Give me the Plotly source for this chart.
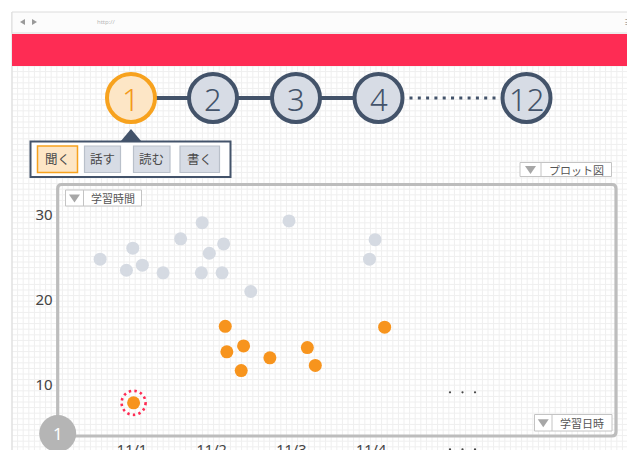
import plotly.graph_objects as go

# ---------------- data ----------------
steps = ["1", "2", "3", "4", "12"]
tabs = ["聞く", "話す", "読む", "書く"]
x_tick_vals = [1, 2, 3, 4]
x_tick_text = ["11/1", "11/2", "11/3", "11/4"]
y_tick_vals = [10, 20, 30]

# other learners (gray)
gray_x = [0.60, 0.93, 1.01, 1.13, 1.39, 1.61, 1.87, 1.88, 1.97, 2.13, 2.15, 2.49, 2.97, 3.98, 4.05]
gray_y = [24.8, 23.5, 26.1, 24.1, 23.2, 27.2, 23.2, 29.1, 25.5, 23.2, 26.6, 21.0, 29.3, 24.8, 27.1]
# current learner (orange)
orange_x = [1.02, 2.17, 2.19, 2.37, 2.40, 2.73, 3.20, 3.30, 4.17]
orange_y = [7.9, 16.9, 13.9, 11.7, 14.6, 13.2, 14.4, 12.3, 16.8]
highlight_index = 0

# the page body has an 8px margin: work in window pixels and convert
OFF = 8
W, H = 635 - OFF, 450 - OFF
FONT = "Noto Sans, Noto Sans CJK JP, sans-serif"
DARK = "#43536a"
ORANGE = "#f7941d"
RED = "#fe2c54"


def X(px):
    return (px - OFF) / W


def Y(py):
    return 1 - (py - OFF) / H


shapes = []
annotations = []


def rect(x0, y0, x1, y1, fill, line="rgba(0,0,0,0)", lw=1):
    shapes.append(dict(type="rect", xref="paper", yref="paper", layer="below",
                       x0=X(x0), x1=X(x1), y0=Y(y1), y1=Y(y0),
                       fillcolor=fill, line=dict(color=line, width=lw)))


def line(x0, y0, x1, y1, color, lw=1, dash="solid"):
    shapes.append(dict(type="line", xref="paper", yref="paper", layer="below",
                       x0=X(x0), x1=X(x1), y0=Y(y0), y1=Y(y1),
                       line=dict(color=color, width=lw, dash=dash)))


def circle(cx, cy, r, fill, line_c="rgba(0,0,0,0)", lw=0):
    shapes.append(dict(type="circle", xref="paper", yref="paper", layer="below",
                       x0=X(cx - r), x1=X(cx + r), y0=Y(cy + r), y1=Y(cy - r),
                       fillcolor=fill, line=dict(color=line_c, width=lw)))


def poly(pts, fill):
    p = "M " + " L ".join(f"{X(a):.5f},{Y(b):.5f}" for a, b in pts) + " Z"
    shapes.append(dict(type="path", xref="paper", yref="paper", layer="below",
                       path=p, fillcolor=fill, line=dict(width=0)))


def text(px, py, s, size, color, xanchor="center", yanchor="middle", weight="normal"):
    annotations.append(dict(xref="paper", yref="paper", x=X(px), y=Y(py), text=s,
                            showarrow=False, xanchor=xanchor, yanchor=yanchor,
                            font=dict(size=size, color=color, family=FONT, weight=weight)))


# ---------------- background grid ----------------
segs = []
gx0, gy0 = 12, 66
step = 5.6
v = gx0
while v <= 635:
    segs.append(f"M {X(v):.5f},{Y(gy0):.5f} L {X(v):.5f},{Y(450):.5f}")
    v += step
v = gy0
while v <= 450:
    segs.append(f"M {X(gx0):.5f},{Y(v):.5f} L {X(635):.5f},{Y(v):.5f}")
    v += step
shapes.append(dict(type="path", xref="paper", yref="paper", layer="below",
                   path=" ".join(segs), line=dict(color="#efefef", width=1)))

# ---------------- browser chrome ----------------
line(12, 12, 12, 450, "#d9d9d9", 1)
rect(12, 12, 640, 33, "#fcfcfc", "#dcdcdc", 1)
rect(12, 34, 640, 66, RED)
poly([(20, 22), (25, 19), (25, 25)], "#9a9a9a")
poly([(37, 22), (32, 19), (32, 25)], "#9a9a9a")
text(95, 22.5, "http://", 6, "#b8b8b8", xanchor="left")
text(636, 22, "≡", 10, "#9a9a9a", xanchor="right")

# ---------------- step indicator ----------------
centers = [131, 213, 296, 378.5, 526.5]
cy = 98
r = 24
for i in range(3):
    line(centers[i] + r, cy, centers[i + 1] - r, cy, DARK, 4)
line(centers[3] + r + 7, cy, centers[4] - r - 3, cy, DARK, 3.2, dash="3px,5.3px")
for i, (c, s) in enumerate(zip(centers, steps)):
    if i == 0:
        circle(c, cy, r, "#fde6c6", "#f7a21e", 4)
        text(c, cy + 1, s, 31, "#f39a1c", weight=300)
    else:
        circle(c, cy, r, "#d7dce5", DARK, 4)
        text(c, cy + 1, s, 31, DARK, weight=300)

# pointer + tab box
poly([(131, 129), (120.5, 141.5), (141.5, 141.5)], DARK)
rect(30.5, 141.5, 230.5, 177, "#ffffff", DARK, 2)
tab_boxes = [(37.5, 77.5), (84.5, 120.5), (133.5, 170), (180, 219.5)]
for i, ((a, b), t) in enumerate(zip(tab_boxes, tabs)):
    if i == 0:
        rect(a, 146, b, 172.5, "#fde6c6", "#f7a21e", 1.5)
    else:
        rect(a, 146, b, 172.5, "#d7dce5", "#b9c0ca", 1.2)
    text((a + b) / 2, 159.5, t, 12.5, "#4a4a4a")


# dropdown helper
def dropdown(x0, y0, x1, y1, split, label, size=11):
    rect(x0, y0, x1, y1, "#ffffff", "#c4c4c4", 1)
    line(split, y0, split, y1, "#c4c4c4", 1)
    m = (x0 + split) / 2
    mid = (y0 + y1) / 2
    poly([(m - 5.5, mid - 3.5), (m + 5.5, mid - 3.5), (m, mid + 4.5)], "#a7a7a7")
    text((split + x1) / 2, mid + 0.5, label, size, "#555555")


dropdown(520, 162.5, 611.5, 176.5, 541, "プロット図")

# ---------------- chart frame ----------------
fx0, fy0, fx1, fy1, rr = 57.7, 184.5, 616, 436, 4
frame = (f"M {X(fx0):.5f},{Y(fy1):.5f} L {X(fx0):.5f},{Y(fy0 + rr):.5f} "
         f"Q {X(fx0):.5f},{Y(fy0):.5f} {X(fx0 + rr):.5f},{Y(fy0):.5f} "
         f"L {X(fx1 - rr):.5f},{Y(fy0):.5f} "
         f"Q {X(fx1):.5f},{Y(fy0):.5f} {X(fx1):.5f},{Y(fy0 + rr):.5f} "
         f"L {X(fx1):.5f},{Y(fy1 - rr):.5f} "
         f"Q {X(fx1):.5f},{Y(fy1):.5f} {X(fx1 - rr):.5f},{Y(fy1):.5f} "
         f"L {X(fx0):.5f},{Y(fy1):.5f}")
shapes.append(dict(type="path", xref="paper", yref="paper", layer="below",
                   path=frame, line=dict(color="#bdbdbd", width=3.2)))

dropdown(65.5, 190, 141.5, 206, 83.5, "学習時間")
dropdown(534.5, 414.5, 612, 431, 552, "学習日時")

# continuation marks
for xx in (450, 462.5, 475):
    circle(xx, 392.3, 1.1, "#444444")
    circle(xx, 449.3, 1.1, "#444444")

# gray badge "1"
circle(57.7, 433.5, 18.5, "#b5b5b5")
text(57.7, 433.5, "1", 17, "#ffffff")

# highlight ring around the selected point (pixel-sized, anchored to data)
shapes.append(dict(type="circle", xref="x", yref="y", layer="above",
                   xsizemode="pixel", ysizemode="pixel",
                   xanchor=orange_x[highlight_index], yanchor=orange_y[highlight_index],
                   x0=-12, x1=12, y0=-12, y1=12,
                   line=dict(color=RED, width=2.6, dash="2.4px,3.3px")))

# ---------------- data traces ----------------
fig = go.Figure()
fig.add_trace(go.Scatter(x=gray_x, y=gray_y, mode="markers", name="others",
                         marker=dict(size=13, color="#d5dae2", line=dict(width=0)),
                         hoverinfo="skip"))
fig.add_trace(go.Scatter(x=orange_x, y=orange_y, mode="markers", name="me",
                         marker=dict(size=13, color=ORANGE, line=dict(width=0)),
                         hoverinfo="skip"))

# axes: pixel mapping x: 1 day = 79.7px with 11/1 at px 132 ; y: 10h = 85px with 30 at py 215
px_day = 79.7
xr = [1 + (fx0 - 132) / px_day, 1 + (fx1 - 132) / px_day]
py_unit = 8.5
yr = [30 - (fy1 - 215) / py_unit, 30 + (215 - fy0) / py_unit]

fig.update_layout(
    width=W, height=H,
    margin=dict(l=0, r=0, t=0, b=0),
    paper_bgcolor="#ffffff",
    plot_bgcolor="rgba(0,0,0,0)",
    showlegend=False,
    template="none",
    shapes=shapes,
    annotations=annotations,
    xaxis=dict(domain=[X(fx0), X(fx1)], range=xr, tickvals=x_tick_vals,
               ticktext=x_tick_text, showgrid=False, zeroline=False, showline=False,
               ticks="", ticklabelstandoff=3, automargin=False, fixedrange=True,
               tickfont=dict(size=14.5, color="#444444", family=FONT)),
    yaxis=dict(domain=[Y(fy1), Y(fy0)], range=yr, tickvals=y_tick_vals,
               showgrid=False, zeroline=False, showline=False,
               ticks="", ticklabelstandoff=4, automargin=False, fixedrange=True,
               tickfont=dict(size=15, color="#444444", family=FONT)),
)

fig.write_html("out.html")
